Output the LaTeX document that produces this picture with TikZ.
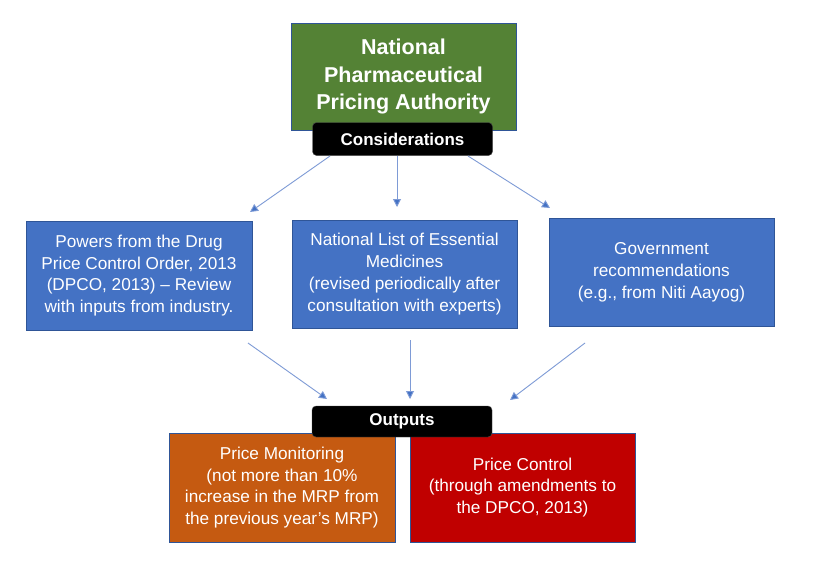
\documentclass[tikz,border=0pt]{standalone}
\usepackage{fontspec}
\setmainfont{Liberation Sans}
\usetikzlibrary{arrows.meta}
\definecolor{pgreen}{HTML}{548235}
\definecolor{pblue}{HTML}{4472C4}
\definecolor{porange}{HTML}{C55A11}
\definecolor{pred}{HTML}{C00000}
\definecolor{pedge}{HTML}{2F5597}
\definecolor{parrow}{HTML}{7E9BD6}
\begin{document}
\begin{tikzpicture}[x=1pt,y=-1pt,
  boxst/.style={draw=pedge,line width=0.8pt,text=white,align=center,inner sep=0pt,
    font=\fontsize{17.2}{21.8}\selectfont},
  tagst/.style={fill=black,draw=black!70,rounded corners=4pt,text=white,align=center,
    font=\fontsize{17}{18}\selectfont\bfseries,inner sep=0pt},
  arr/.style={draw=parrow,line width=0.9pt,-{Triangle[length=8pt,width=8pt,fill=pblue]}}]
\useasboundingbox (0,0) rectangle (834,573);
\fill[white] (0,0) rectangle (834,573);
% top
\node[boxst,fill=pgreen,minimum width=225pt,minimum height=107pt,
  font=\fontsize{21.5}{27.5}\selectfont\bfseries] (npp) at (403.5,76.5)
  {National\\Pharmaceutical\\Pricing Authority};
\node[tagst,minimum width=180pt,minimum height=33pt] (cons) at (402.5,139) {Considerations};
% middle row
\node[boxst,fill=pblue,minimum width=226pt,minimum height=109pt] (dpco) at (139,275.5)
  {Powers from the Drug\\Price Control Order, 2013\\(DPCO, 2013) -- Review\\with inputs from industry.};
\node[boxst,fill=pblue,minimum width=225pt,minimum height=108pt] (nlem) at (404.5,274)
  {National List of Essential\\Medicines\\(revised periodically after\\consultation with experts)};
\node[boxst,fill=pblue,minimum width=225pt,minimum height=108pt] (gov) at (661.5,272)
  {Government\\recommendations\\(e.g., from Niti Aayog)};
% bottom
\node[boxst,fill=porange,minimum width=226pt,minimum height=109pt] (mon) at (282,487.5)
  {Price Monitoring\\(not more than 10\%\\increase in the MRP from\\the previous year's MRP)};
\node[boxst,fill=pred,minimum width=225pt,minimum height=109pt] (ctl) at (522.5,487.5)
  {Price Control\\(through amendments to\\the DPCO, 2013)};
\node[tagst,minimum width=180pt,minimum height=31pt] (out) at (402,421.5) {Outputs};
% arrow end points
\coordinate (c1) at (330,156); \coordinate (d1) at (250,212);
\coordinate (c2) at (397,156); \coordinate (d2) at (397,207);
\coordinate (c3) at (468,156); \coordinate (d3) at (550,208);
\coordinate (e1) at (248,343); \coordinate (f1) at (327,399);
\coordinate (e2) at (410,340); \coordinate (f2) at (410,399);
\coordinate (e3) at (585,343); \coordinate (f3) at (510,400);
\draw[arr] (c1) -- (d1);
\draw[arr] (c2) -- (d2);
\draw[arr] (c3) -- (d3);
\draw[arr] (e1) -- (f1);
\draw[arr] (e2) -- (f2);
\draw[arr] (e3) -- (f3);
\end{tikzpicture}
\end{document}
